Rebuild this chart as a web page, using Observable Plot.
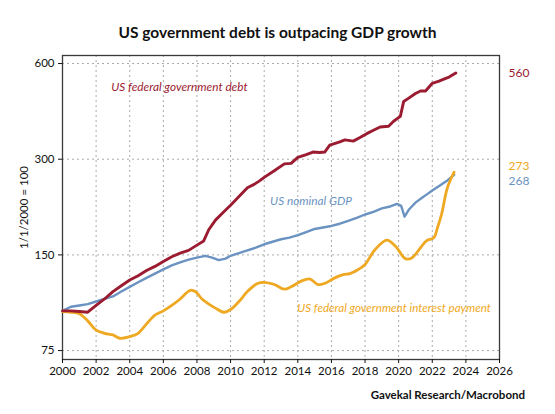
<!DOCTYPE html>
<html>
<head>
<meta charset="utf-8">
<script src="https://cdn.jsdelivr.net/npm/d3@7"></script>
<script src="https://cdn.jsdelivr.net/npm/@observablehq/plot@0.6"></script>
<style>
  body { margin: 0; background: #fff; }
  #wrap { position: relative; width: 555px; height: 414px; background: #fff; font-family: Lato, "Open Sans", sans-serif; }
  #title { position: absolute; top: 23px; left: 0; width: 555px; text-align: center; font-weight: bold; font-size: 15.5px; color: #111; line-height: normal; }
  #chart { position: absolute; top: 45px; left: 0; }
  #source { position: absolute; top: 388px; right: 30px; font-weight: bold; font-size: 11.5px; color: #111; line-height: normal; }
</style>
</head>
<body>
<div id="wrap">
  <div id="title">US government debt is outpacing GDP growth</div>
  <div id="chart"></div>
  <div id="source">Gavekal Research/Macrobond</div>
</div>
<script>
// ---- data (index, 1/1/2000 = 100) ----
const debtYears  = [2000, 2000.5, 2001, 2001.5, 2002, 2002.5, 2003, 2003.5, 2004, 2004.5, 2005, 2005.5, 2006, 2006.5, 2007, 2007.5, 2008, 2008.4, 2008.7, 2009.1, 2009.6, 2010, 2010.5, 2011, 2011.4, 2011.7, 2012, 2012.6, 2013.2, 2013.6, 2014, 2014.5, 2014.9, 2015.3, 2015.6, 2015.9, 2016.5, 2016.8, 2017.3, 2017.7, 2018.1, 2018.5, 2018.9, 2019.4, 2019.7, 2020.1, 2020.3, 2020.6, 2021, 2021.3, 2021.6, 2022, 2022.4, 2022.8, 2023.0, 2023.2, 2023.4];
const debtValues = [100, 100, 99.5, 99, 104, 109, 115, 120, 125, 129, 134, 138, 143, 148, 152, 155, 161, 166, 180, 193, 205, 215, 229, 244, 250, 256, 263, 276, 290, 291, 304, 310, 316, 315, 316, 332, 340, 345, 342, 351, 361, 370, 379, 381, 395, 409, 456, 467, 483, 492, 492, 520, 528, 539, 544, 552, 560];

const gdpYears  = [2000, 2000.5, 2001, 2001.5, 2002, 2002.5, 2003, 2003.5, 2004, 2004.5, 2005, 2005.5, 2006, 2006.5, 2007, 2007.5, 2008, 2008.5, 2008.9, 2009.3, 2009.7, 2010, 2010.5, 2011, 2011.5, 2012, 2012.5, 2013, 2013.5, 2014, 2014.5, 2015, 2015.5, 2016, 2016.5, 2017, 2017.5, 2018, 2018.5, 2019, 2019.5, 2019.9, 2020.15, 2020.35, 2020.6, 2021, 2021.35, 2021.7, 2022, 2022.25, 2022.5, 2022.85, 2023.3];
const gdpValues = [100, 103, 104, 105, 107, 109, 111, 115, 119, 123, 127, 131, 135, 139, 142, 145, 147, 149, 147, 144.5, 146, 149, 152, 155, 158, 162, 165, 168, 170, 173, 177, 181, 183, 185, 188, 192, 196, 201, 205, 210, 213, 217, 214, 198, 208, 219, 226, 233, 239, 244, 249, 256, 268];

const intYears  = [2000, 2000.5, 2001, 2001.5, 2002, 2002.5, 2003, 2003.4, 2004, 2004.5, 2005, 2005.5, 2006, 2006.5, 2007, 2007.6, 2007.9, 2008.3, 2008.6, 2009.1, 2009.6, 2010, 2010.5, 2011, 2011.6, 2012, 2012.6, 2013.2, 2013.6, 2014.2, 2014.7, 2015.2, 2015.6, 2016.2, 2016.7, 2017.1, 2017.6, 2018, 2018.6, 2019.3, 2019.8, 2020.4, 2020.8, 2021.3, 2021.65, 2022.1, 2022.3, 2022.55, 2022.9, 2023.3];
const intValues = [99.5, 99, 98, 93, 87, 85, 84, 82, 83, 85, 91, 97, 100, 104, 109, 116, 115, 109, 106, 102, 99, 101, 107, 115, 122, 123, 121, 117, 119, 124, 126, 121, 122, 127, 130, 131, 135, 140, 156, 167, 160, 146, 147, 158, 166, 170, 182, 201, 244, 273];

const xTicks = [2000, 2002, 2004, 2006, 2008, 2010, 2012, 2014, 2016, 2018, 2020, 2022, 2024, 2026];
const gridYears = [2002, 2004, 2006, 2008, 2010, 2012, 2014, 2016, 2018, 2020, 2022, 2024];
const yTicks = [75, 150, 300, 600];

const seriesNames = ["US federal government debt", "US nominal GDP", "US federal government interest payment"];
const endLabels = ["560", "273", "268"];

// ---- build tables ----
const debt = debtYears.map((x, i) => ({year: x, value: debtValues[i]}));
const gdp  = gdpYears.map((x, i) => ({year: x, value: gdpValues[i]}));
const intr = intYears.map((x, i) => ({year: x, value: intValues[i]}));

const cDebt = "#9b1b30", cGdp = "#6b93c2", cInt = "#efa822";

const chart = Plot.plot({
  width: 555,
  height: 340,
  marginLeft: 62,
  marginRight: 56,
  marginTop: 10,
  marginBottom: 26,
  style: {fontFamily: "Lato, 'Open Sans', sans-serif", fontSize: "11px", color: "#111", background: "#fff"},
  x: {domain: [2000, 2026]},
  y: {type: "log", domain: [70.3, 636]},
  marks: [
    Plot.gridX(gridYears, {stroke: "#aaa", strokeOpacity: 1, strokeDasharray: "2,3", strokeWidth: 1}),
    Plot.gridY(yTicks, {stroke: "#aaa", strokeOpacity: 1, strokeDasharray: "2,3", strokeWidth: 1}),
    Plot.frame({stroke: "#3a3a3a", strokeWidth: 1.3}),
    Plot.axisX({ticks: xTicks, tickFormat: d => String(d), tickSize: 4, tickPadding: 3, label: null, fontSize: 11.5}),
    Plot.axisY({ticks: yTicks, tickFormat: d => String(d), tickSize: 4, tickPadding: 4, label: null, fontSize: 11.5}),
    Plot.text(["1/1/2000 = 100"], {frameAnchor: "left", dx: -38, rotate: -90, textAnchor: "middle", lineAnchor: "middle", fontSize: 11.5, fill: "#111"}),
    Plot.line(gdp,  {x: "year", y: "value", stroke: cGdp, strokeWidth: 2.4}),
    Plot.line(intr, {x: "year", y: "value", stroke: cInt, strokeWidth: 2.8, curve: "catmull-rom"}),
    Plot.line(debt, {x: "year", y: "value", stroke: cDebt, strokeWidth: 2.9}),
    Plot.text([seriesNames[0]], {x: 2002.9, y: 504, textAnchor: "start", fill: cDebt, fontStyle: "italic", fontSize: 11.8}),
    Plot.text([seriesNames[1]], {x: 2012.35, y: 222, textAnchor: "start", fill: cGdp, fontStyle: "italic", fontSize: 11.8}),
    Plot.text([seriesNames[2]], {x: 2013.97, y: 102, textAnchor: "start", fill: cInt, fontStyle: "italic", fontSize: 11.6}),
    Plot.text([endLabels[0]], {x: 2026, y: 560, dx: 9, textAnchor: "start", fill: cDebt, fontSize: 12}),
    Plot.text([endLabels[1]], {x: 2026, y: 286, dx: 9, textAnchor: "start", fill: cInt, fontSize: 12}),
    Plot.text([endLabels[2]], {x: 2026, y: 256, dx: 9, textAnchor: "start", fill: cGdp, fontSize: 12})
  ]
});
document.getElementById("chart").appendChild(chart);
</script>
</body>
</html>
